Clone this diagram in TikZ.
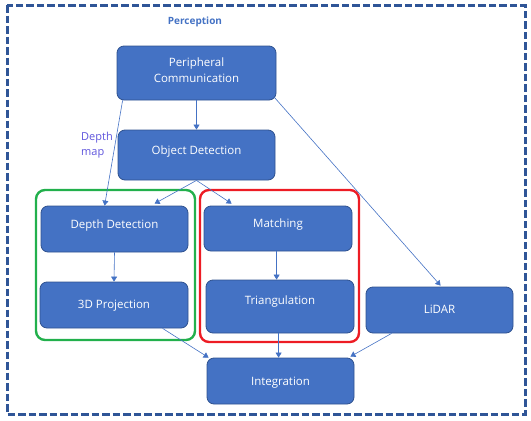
\documentclass[tikz,border=0pt]{standalone}
\usepackage{fontspec}
\setmainfont{Open Sans}
\usetikzlibrary{arrows.meta,calc}
\definecolor{nfill}{HTML}{4472C4}
\definecolor{nedge}{HTML}{2F528F}
\definecolor{frame}{HTML}{2F5597}
\definecolor{grp1}{HTML}{22B04C}
\definecolor{grp2}{HTML}{ED1C24}
\definecolor{lbl}{HTML}{5F55DC}
\tikzset{
  box/.style={draw=nedge, line width=0.8pt, fill=nfill, rounded corners=7pt, inner sep=0pt},
  txt/.style={text=white, font=\fontsize{11.5}{16}\selectfont, align=center, inner sep=0pt},
  conn/.style={draw=nfill, line width=0.6pt, -{Triangle[width=6pt,length=5pt]}},
  group/.style={line width=2.4pt, rounded corners=9pt},
}
\begin{document}
\begin{tikzpicture}[x=1pt,y=-1pt]
\useasboundingbox (0,0) rectangle (531,421);
% outer frame
\draw[frame, line width=3pt, dash pattern=on 7.5pt off 3pt] (7,5) rectangle (525,414);
\node[text=nfill, font=\bfseries\fontsize{10}{12}\selectfont] (title) at (195,22) {Perception};
% groups
\draw[group, grp1] (36,190) rectangle (195,340);
\draw[group, grp2] (200,190) rectangle (359,342);
% boxes
\node[box, minimum width=159pt, minimum height=54pt] (pc) at (196.5,73) {};
\node[txt] (pct) at (196.5,70) {Peripheral\\Communication};
\node[box, minimum width=157pt, minimum height=50pt] (od) at (196.5,155) {};
\node[txt] (odt) at (196.5,152) {Object Detection};
\node[box, minimum width=147pt, minimum height=46pt] (dd) at (114.5,229) {};
\node[txt] (ddt) at (114.5,226) {Depth Detection};
\node[box, minimum width=148pt, minimum height=46pt] (pj) at (114,305) {};
\node[txt] (pjt) at (114,306) {3D Projection};
\node[box, minimum width=148pt, minimum height=45pt] (ma) at (278,228.5) {};
\node[txt] (mat) at (278,225) {Matching};
\node[box, minimum width=148pt, minimum height=53pt] (tr) at (280,306.5) {};
\node[txt] (trt) at (280,302) {Triangulation};
\node[box, minimum width=147pt, minimum height=46pt] (li) at (439.5,310) {};
\node[txt] (lit) at (439.5,309) {LiDAR};
\node[box, minimum width=147pt, minimum height=46pt] (in) at (280.5,381) {};
\node[txt] (int) at (280.5,383) {Integration};
% label
\node[text=lbl, font=\fontsize{11}{15}\selectfont, align=left, inner sep=0pt] (dm) at (97,145) {Depth\\map};
% connectors
\coordinate (odb) at ($(od.south)+(0,0)$);
\draw[conn] (pc.south) -- (od.north);
\draw[conn] ($(pc.south west)+(6,0)$) -- ($(dd.north west)+(64,0)$);
\draw[conn] (odb) -- ($(dd.north west)+(114,-2)$);
\draw[conn] (odb) -- ($(ma.north west)+(28,-2)$);
\draw[conn] ($(pc.south east)+(-2,-3)$) -- ($(li.north west)+(75,-1)$);
\draw[conn] (dd.south) -- (pj.north);
\draw[conn] ($(ma.south west)+(73,0)$) -- ($(tr.north west)+(71,0)$);
\draw[conn] ($(pj.south west)+(123,0)$) -- ($(in.north west)+(2,0)$);
\draw[conn] ($(tr.south west)+(73,0)$) -- ($(in.north west)+(72,0)$);
\draw[conn] ($(li.south west)+(26,0)$) -- ($(in.north east)+(-4,-1)$);
\end{tikzpicture}
\end{document}
